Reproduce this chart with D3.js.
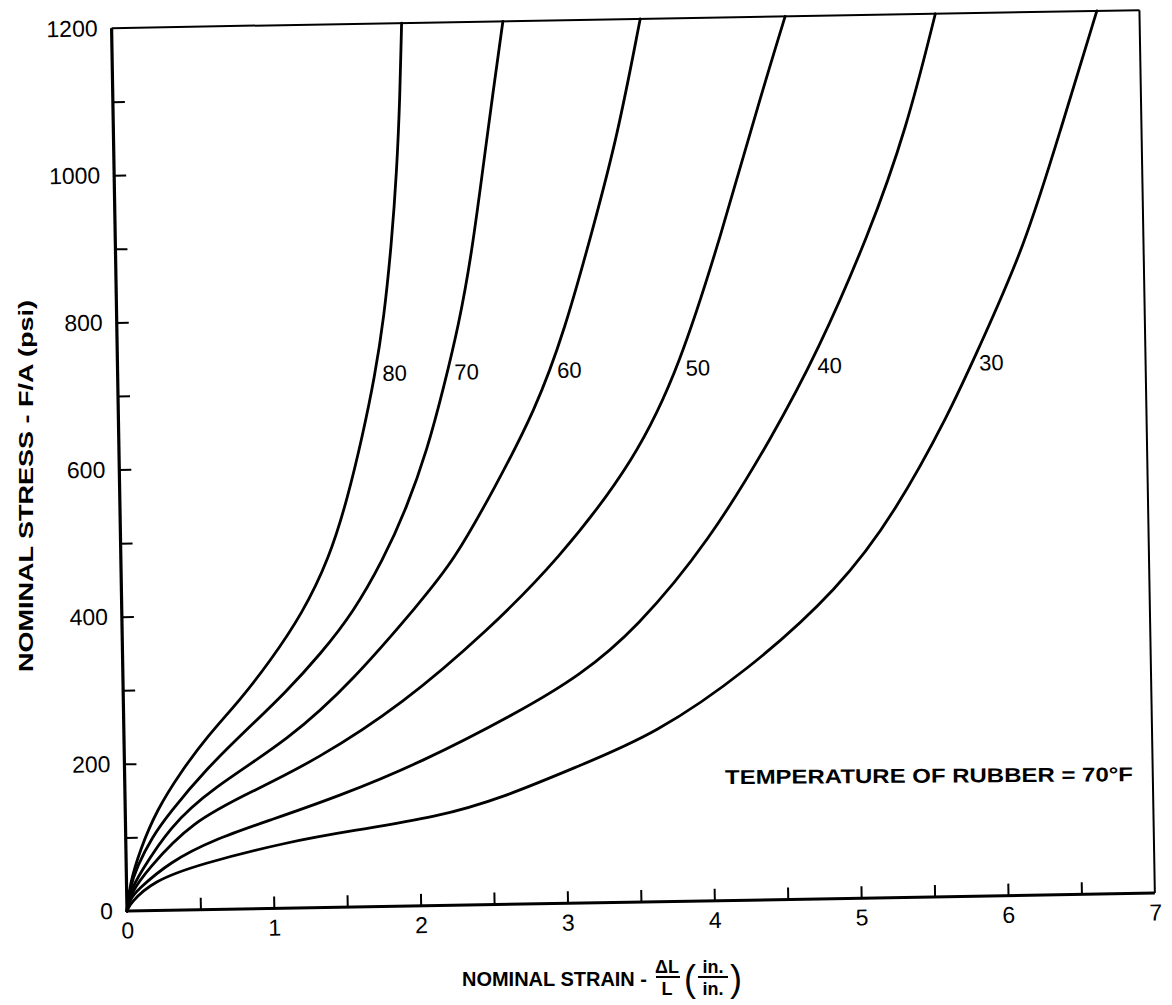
<!DOCTYPE html>
<html>
<head>
<meta charset="utf-8">
<script src="https://cdn.jsdelivr.net/npm/d3@7"></script>
<style>
  html, body { margin: 0; padding: 0; background: #fff; }
  svg { display: block; }
  text { font-family: "Liberation Sans", "DejaVu Sans", Arial, sans-serif; fill: #000; }
</style>
</head>
<body>
<svg id="chart" width="1172" height="1005"></svg>
<script>
// Stress–strain curves of rubber in tension, one curve per durometer hardness.
// Each point is [nominal strain (in./in.), nominal stress (psi)].
const durometer80 = [[0,0],[0.02,35],[0.096,83],[0.216,137],[0.377,186],[0.565,235],[0.795,284],[1.0,335],[1.23,400],[1.42,475],[1.55,555],[1.66,640],[1.75,720],[1.82,800],[1.88,900],[1.925,1000],[1.955,1100],[1.975,1200]];
const durometer70 = [[0,0],[0.02,30],[0.073,60],[0.18,100],[0.3,132],[0.55,190],[0.86,248],[1.1,292],[1.35,345],[1.575,400],[1.785,471],[1.95,540],[2.1,620],[2.22,705],[2.33,790],[2.42,880],[2.5,985],[2.59,1105],[2.665,1200]];
const durometer60 = [[0,0],[0.02,25],[0.093,51],[0.3,113],[0.58,163],[1.13,230],[1.567,308],[2.03,412],[2.27,469],[2.55,565],[2.84,671],[3.05,779],[3.25,914],[3.43,1040],[3.6,1200]];
const durometer50 = [[0,0],[0.03,25],[0.141,55],[0.45,120],[0.872,160],[1.3,200],[1.905,275],[2.485,372],[2.97,465],[3.52,602],[3.83,729],[4.125,904],[4.39,1079],[4.587,1200]];
const durometer40 = [[0,0],[0.02,15],[0.07,28],[0.3,66],[0.6,95],[0.985,120],[1.444,150],[2.013,194],[2.7,262],[3.11,309],[3.5,371],[4.01,489],[4.455,631],[4.765,742],[5.13,901],[5.4,1044],[5.61,1200]];
const durometer30 = [[0,0],[0.02,10],[0.18,40],[0.5,62],[1.1,90],[1.549,104],[2.12,120],[2.574,145],[3.1,187],[3.61,227],[4.25,311],[4.89,422],[5.28,524],[5.66,658],[5.85,738],[6.19,881],[6.45,1040],[6.71,1200]];

const curveLabels = ["80", "70", "60", "50", "40", "30"];
const curveSeries = [durometer80, durometer70, durometer60, durometer50, durometer40, durometer30];
const labelStress = 725;   // stress level where each hardness label sits

const xTickValues = d3.range(0, 7.01, 0.5);
const xTickLabels = ["0", "1", "2", "3", "4", "5", "6", "7"];
const yTickValues = d3.range(0, 1201, 100);
const yTickLabels = ["0", "200", "400", "600", "800", "1000", "1200"];

const noteText = "TEMPERATURE OF RUBBER = 70°F";

// ---- layout ----
const svg = d3.select("#chart");
const originX = 127, originY = 911;
const plotW = 1028, plotH = 883;
const tilt = -1.0;

const x = d3.scaleLinear().domain([0, 7]).range([0, plotW]);
const y = d3.scaleLinear().domain([0, 1200]).range([0, -plotH]);

const g = svg.append("g").attr("transform", `translate(${originX},${originY}) rotate(${tilt})`);

// frame
g.append("line").attr("x1", x(0)).attr("y1", y(0)).attr("x2", x(0)).attr("y2", y(1200))
  .attr("stroke", "#000").attr("stroke-width", 3.2);
g.append("line").attr("x1", x(0)).attr("y1", y(0)).attr("x2", x(7)).attr("y2", y(0))
  .attr("stroke", "#000").attr("stroke-width", 3);
g.append("line").attr("x1", x(0)).attr("y1", y(1200)).attr("x2", x(7)).attr("y2", y(1200))
  .attr("stroke", "#000").attr("stroke-width", 2);
g.append("line").attr("x1", x(7)).attr("y1", y(1200)).attr("x2", x(7)).attr("y2", y(0))
  .attr("stroke", "#000").attr("stroke-width", 2);

// axes: inward ticks every half unit / 100 psi, numbered on the whole units / 200 psi
const yAxis = d3.axisLeft(y).tickValues(yTickValues).tickSize(-12).tickPadding(14)
  .tickFormat(d => yTickLabels.includes(String(d)) ? String(d) : "");
const xAxis = d3.axisBottom(x).tickValues(xTickValues).tickSize(-12).tickPadding(11)
  .tickFormat(d => xTickLabels.includes(String(d)) ? String(d) : "");

const gy = g.append("g").call(yAxis);
const gx = g.append("g").attr("transform", `translate(0,${y(0)})`).call(xAxis);
[gx, gy].forEach(a => {
  a.select(".domain").remove();
  a.selectAll(".tick line").attr("stroke", "#000").attr("stroke-width", 2);
  a.selectAll(".tick text").attr("font-size", 23).attr("fill", "#000")
    .style("font-family", "'Liberation Sans', 'DejaVu Sans', sans-serif");
});
gx.selectAll(".tick").filter(d => d === 7).select("line").remove();
gy.selectAll(".tick").filter(d => d === 0 || d === 1200).select("line").remove();

// curves, drawn as smooth B-splines through the read-off points
const line = d3.line().x(d => x(d[0])).y(d => y(d[1])).curve(d3.curveBasis);
g.append("g").selectAll("path").data(curveSeries).join("path")
  .attr("d", line).attr("fill", "none").attr("stroke", "#000")
  .attr("stroke-width", 2.8).attr("stroke-linecap", "round").attr("stroke-linejoin", "round");

// hardness labels, placed just right of where each curve crosses labelStress
function strainAt(series, s) {
  for (let i = 1; i < series.length; i++) {
    const [x0, y0] = series[i - 1], [x1, y1] = series[i];
    if (s >= y0 && s <= y1) return x0 + (x1 - x0) * (s - y0) / (y1 - y0);
  }
  return series[series.length - 1][0];
}
g.append("g").selectAll("text").data(curveSeries).join("text")
  .attr("x", d => x(strainAt(d, labelStress)) + 7)
  .attr("y", y(labelStress) + 8)
  .attr("font-size", 22)
  .text((d, i) => curveLabels[i]);

// test condition note
svg.append("text")
  .attr("transform", "translate(725,784) rotate(-0.4)")
  .attr("font-size", 20).attr("font-weight", 700)
  .attr("textLength", 408).attr("lengthAdjust", "spacingAndGlyphs")
  .text(noteText);

// axis titles
const xt = svg.append("g").attr("transform", "translate(462,986)");
xt.append("text").attr("x", 0).attr("y", 0).attr("font-size", 21).attr("font-weight", 700)
  .attr("textLength", 185).attr("lengthAdjust", "spacingAndGlyphs")
  .text("NOMINAL  STRAIN -");
// fraction ΔL / L
xt.append("text").attr("x", 205).attr("y", -13).attr("font-size", 18).attr("font-weight", 700)
  .attr("text-anchor", "middle").text("ΔL");
xt.append("line").attr("x1", 194).attr("x2", 218).attr("y1", -9).attr("y2", -9)
  .attr("stroke", "#000").attr("stroke-width", 2);
xt.append("text").attr("x", 205).attr("y", 9).attr("font-size", 18).attr("font-weight", 700)
  .attr("text-anchor", "middle").text("L");
// (in./in.)
xt.append("text").attr("x", 222).attr("y", 5).attr("font-size", 36).attr("font-weight", 400)
  .text("(");
xt.append("text").attr("x", 251).attr("y", -13).attr("font-size", 18).attr("font-weight", 700)
  .attr("text-anchor", "middle").text("in.");
xt.append("line").attr("x1", 236).attr("x2", 266).attr("y1", -9).attr("y2", -9)
  .attr("stroke", "#000").attr("stroke-width", 2);
xt.append("text").attr("x", 251).attr("y", 9).attr("font-size", 18).attr("font-weight", 700)
  .attr("text-anchor", "middle").text("in.");
xt.append("text").attr("x", 268).attr("y", 5).attr("font-size", 36).attr("font-weight", 400)
  .text(")");

svg.append("text")
  .attr("transform", "translate(33,672) rotate(-90)")
  .attr("font-size", 21).attr("font-weight", 700)
  .attr("textLength", 372).attr("lengthAdjust", "spacingAndGlyphs")
  .text("NOMINAL  STRESS - F/A (psi)");
</script>
</body>
</html>
